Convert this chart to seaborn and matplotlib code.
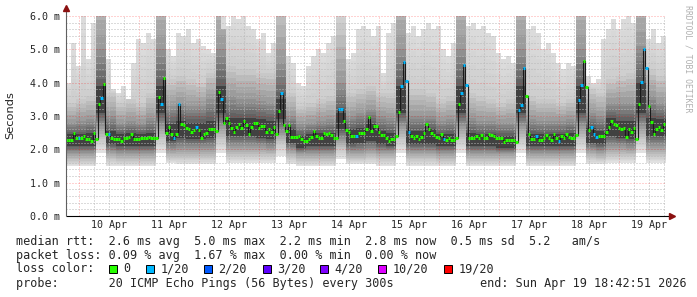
import numpy as np
import matplotlib
matplotlib.use("Agg")
import matplotlib.pyplot as plt
from matplotlib.patches import Rectangle
import seaborn as sns

# ---------------- data ----------------
# hourly median RTT in ms, first sample = Apr 9 19:00 (hour -5 relative to Apr 10 00:00)
median_ms = [
    2.29, 2.29, 2.29, 2.5, 2.35, 2.35, 2.35, 2.4, 2.3, 2.3,
    2.25, 2.5, 2.3, 3.35, 3.55, 3.97, 2.45, 2.45, 2.35, 2.32,
    2.3, 2.3, 2.25, 2.35, 2.33, 2.38, 2.46, 2.3, 2.3, 2.3,
    2.35, 2.33, 2.35, 2.38, 2.35, 2.35, 2.35, 3.58, 3.35, 4.15,
    2.5, 2.66, 2.47, 2.35, 2.45, 3.35, 2.77, 2.73, 2.65, 2.6,
    2.52, 2.58, 2.66, 2.57, 2.35, 2.45, 2.5, 2.6, 2.6, 2.6,
    2.55, 3.71, 3.51, 2.8, 2.93, 2.78, 2.63, 2.52, 2.66, 2.77,
    2.63, 2.84, 2.73, 2.47, 2.67, 2.8, 2.8, 2.64, 2.7, 2.7,
    2.52, 2.61, 2.52, 2.68, 2.47, 3.15, 3.7, 2.73, 2.55, 2.73,
    2.37, 2.37, 2.37, 2.4, 2.3, 2.25, 2.25, 2.3, 2.37, 2.54,
    2.4, 2.35, 2.35, 2.49, 2.45, 2.49, 2.43, 2.33, 2.33, 3.2,
    3.2, 2.85, 2.58, 2.53, 2.4, 2.4, 2.4, 2.5, 2.5, 2.5,
    2.6, 2.97, 2.55, 2.7, 2.7, 2.53, 2.43, 2.43, 2.35, 2.26,
    2.31, 2.31, 2.4, 3.13, 3.91, 4.61, 4.05, 2.53, 2.4, 2.35,
    2.4, 2.3, 2.38, 2.48, 2.77, 2.61, 2.5, 2.43, 2.37, 2.35,
    2.46, 2.31, 2.28, 2.33, 2.28, 2.28, 2.35, 3.37, 3.68, 4.53,
    3.92, 2.35, 2.35, 2.35, 2.41, 2.35, 2.43, 2.33, 2.33, 2.46,
    2.43, 2.4, 2.33, 2.33, 2.33, 2.23, 2.27, 2.27, 2.27, 2.27,
    2.23, 3.18, 3.33, 4.45, 3.61, 2.45, 2.31, 2.31, 2.4, 2.28,
    2.28, 2.35, 2.43, 2.33, 2.28, 2.45, 2.33, 2.24, 2.41, 2.35,
    2.46, 2.36, 2.35, 2.35, 2.43, 3.47, 3.93, 4.65, 3.87, 2.58,
    2.67, 2.47, 2.38, 2.4, 2.4, 2.4, 2.53, 2.67, 2.85, 2.77,
    2.73, 2.63, 2.6, 2.65, 2.38, 2.61, 2.53, 2.65, 2.31, 3.37,
    4.03, 5.01, 4.45, 3.31, 2.83, 2.45, 2.61, 2.67, 2.58, 2.77,
]
# samples with 1/20 packet loss (others 0/20)
loss_1of20_samples = [5, 14, 17, 38, 43, 45, 52, 62, 86, 109, 110, 116, 134, 135,
                      136, 137, 151, 158, 159, 160, 181, 182, 183, 188, 197, 205,
                      206, 210, 211, 212, 230, 231, 232]

# smoke: slowest ping per 2-hour bin (ms)
smoke_max = [
    4.0, 5.2, 4.5, 6.0, 4.7, 5.8, 6.5, 6.5, 4.7, 3.8,
    3.7, 3.9, 3.5, 4.6, 5.3, 5.2, 5.5, 5.3, 6.5, 6.5,
    5.0, 4.8, 5.5, 5.4, 5.6, 5.2, 5.3, 5.1, 5.0, 4.9,
    6.5, 5.6, 5.7, 6.0, 5.9, 6.0, 5.7, 5.6, 5.3, 5.5,
    4.9, 5.2, 6.5, 6.5, 4.8, 4.6, 4.0, 3.9, 4.5, 4.8,
    5.0, 4.9, 5.2, 5.4, 6.5, 6.5, 4.7, 4.9, 5.6, 5.7,
    5.6, 5.4, 5.7, 4.3, 5.5, 5.8, 6.5, 6.5, 5.5, 5.7,
    5.4, 5.6, 5.8, 5.6, 5.7, 5.0, 4.8, 5.2, 6.5, 6.5,
    5.7, 5.8, 5.6, 5.7, 5.5, 5.4, 4.9, 4.7, 4.8, 4.6,
    6.5, 6.5, 5.6, 5.7, 5.5, 5.0, 5.2, 4.9, 4.6, 4.4,
    4.6, 4.5, 6.5, 6.5, 4.2, 4.0, 4.1, 5.3, 5.6, 5.9,
    5.6, 5.9, 6.0, 5.8, 6.5, 6.5, 5.3, 5.6, 5.2, 5.4,
]
# smoke quantiles per 4-hour bin (ms)
smoke_min = [1.5, 1.5, 1.5, 1.9, 1.5, 1.5, 1.5, 1.5, 1.5, 1.9,
             1.6, 1.55, 1.55, 1.55, 1.55, 1.9, 1.6, 1.6, 1.6, 1.6,
             1.6, 1.8, 1.55, 1.5, 1.5, 1.5, 1.5, 1.7, 1.55, 1.55,
             1.55, 1.5, 1.5, 1.9, 1.5, 1.5, 1.5, 1.5, 1.5, 1.9,
             1.5, 1.5, 1.5, 1.5, 1.5, 1.9, 1.5, 1.5, 1.5, 1.5,
             1.5, 1.9, 1.55, 1.55, 1.6, 1.6, 1.6, 1.9, 1.6, 1.6]
smoke_q10 = [1.65, 1.65, 1.65, 2.3, 1.7, 1.65, 1.65, 1.65, 1.65, 2.3,
             1.75, 1.75, 1.75, 1.75, 1.75, 2.3, 1.8, 1.8, 1.8, 1.8,
             1.8, 2.2, 1.75, 1.65, 1.65, 1.65, 1.65, 2.0, 1.7, 1.7,
             1.75, 1.7, 1.7, 2.3, 1.7, 1.7, 1.7, 1.65, 1.65, 2.3,
             1.65, 1.65, 1.65, 1.65, 1.65, 2.3, 1.65, 1.65, 1.65, 1.65,
             1.65, 2.3, 1.75, 1.7, 1.8, 1.8, 1.8, 2.3, 1.8, 1.8]
smoke_q25 = [1.9, 1.9, 1.9, 2.7, 1.95, 1.9, 1.9, 1.9, 1.9, 2.7,
             2.0, 2.05, 2.05, 2.05, 2.05, 2.7, 2.1, 2.1, 2.1, 2.1,
             2.05, 2.5, 2.0, 1.9, 1.9, 1.9, 1.9, 2.3, 1.95, 1.95,
             2.0, 1.95, 1.95, 2.7, 1.95, 1.95, 1.95, 1.9, 1.9, 2.7,
             1.9, 1.9, 1.9, 1.9, 1.9, 2.7, 1.9, 1.9, 1.9, 1.9,
             1.9, 2.7, 2.0, 1.95, 2.1, 2.1, 2.05, 2.7, 2.1, 2.1]
smoke_q40 = [2.1, 2.1, 2.1, 3.1, 2.15, 2.1, 2.1, 2.1, 2.1, 3.1,
             2.25, 2.35, 2.3, 2.3, 2.35, 3.1, 2.4, 2.4, 2.4, 2.35,
             2.3, 2.9, 2.2, 2.05, 2.1, 2.1, 2.1, 2.6, 2.15, 2.2,
             2.25, 2.15, 2.1, 3.1, 2.15, 2.15, 2.15, 2.1, 2.1, 3.1,
             2.1, 2.1, 2.1, 2.05, 2.05, 3.1, 2.1, 2.1, 2.1, 2.1,
             2.1, 3.1, 2.2, 2.15, 2.4, 2.35, 2.3, 3.1, 2.4, 2.4]
smoke_q60 = [2.45, 2.45, 2.5, 3.9, 2.55, 2.45, 2.5, 2.45, 2.5, 3.9,
             2.75, 2.85, 2.8, 2.8, 2.85, 3.9, 2.95, 2.95, 2.95, 2.9,
             2.85, 3.5, 2.6, 2.4, 2.45, 2.5, 2.5, 3.1, 2.6, 2.65,
             2.75, 2.55, 2.5, 3.9, 2.55, 2.55, 2.6, 2.45, 2.45, 3.9,
             2.5, 2.45, 2.45, 2.4, 2.4, 3.9, 2.45, 2.45, 2.45, 2.45,
             2.5, 3.9, 2.65, 2.55, 2.95, 2.85, 2.85, 4.0, 2.95, 2.9]
smoke_q75 = [2.8, 2.85, 2.9, 5.0, 3.0, 2.8, 2.85, 2.8, 2.95, 5.0,
             3.3, 3.4, 3.3, 3.3, 3.5, 5.0, 3.6, 3.5, 3.5, 3.45,
             3.4, 4.6, 3.0, 2.75, 2.8, 2.85, 2.9, 4.0, 3.0, 3.1,
             3.2, 3.0, 2.95, 5.0, 3.0, 3.0, 3.0, 2.85, 2.9, 5.0,
             2.95, 2.85, 2.85, 2.8, 2.8, 5.0, 2.9, 2.85, 2.85, 2.85,
             2.9, 5.0, 3.1, 3.0, 3.4, 3.4, 3.4, 5.1, 3.6, 3.4]
smoke_q90 = [3.4, 3.5, 3.6, 7.2, 3.7, 3.4, 3.5, 3.4, 3.7, 7.2,
             4.1, 4.2, 4.1, 4.0, 4.3, 7.2, 4.5, 4.4, 4.4, 4.3,
             4.3, 6.5, 3.7, 3.3, 3.4, 3.5, 3.6, 5.8, 3.7, 3.8,
             3.9, 3.7, 3.7, 7.2, 3.8, 3.8, 3.7, 3.5, 3.6, 7.2,
             3.7, 3.6, 3.5, 3.4, 3.5, 7.2, 3.6, 3.5, 3.5, 3.4,
             3.5, 7.2, 3.8, 3.7, 4.1, 4.2, 4.3, 7.2, 4.4, 4.2]

day_labels = ["10 Apr", "11 Apr", "12 Apr", "13 Apr", "14 Apr",
              "15 Apr", "16 Apr", "17 Apr", "18 Apr", "19 Apr"]
y_tick_values = [0, 1, 2, 3, 4, 5, 6]
y_tick_labels = ["0.0 m", "1.0 m", "2.0 m", "3.0 m", "4.0 m", "5.0 m", "6.0 m"]
loss_legend_labels = ["0", "1/20", "2/20", "3/20", "4/20", "10/20", "19/20"]
loss_legend_colors = ["#26ff00", "#00b8ff", "#0059ff", "#5e00ff", "#7e00ff", "#dd00ff", "#ff0000"]
stats_line = "median rtt:  2.6 ms avg  5.0 ms max  2.2 ms min  2.8 ms now  0.5 ms sd  5.2   am/s"
loss_line = "packet loss: 0.09 % avg  1.67 % max  0.00 % min  0.00 % now"
probe_line = "probe:       20 ICMP Echo Pings (56 Bytes) every 300s"
end_line = "end: Sun Apr 19 18:42:51 2026"
loss_title = "loss color:"
y_title = "Seconds"
credit = "RRDTOOL / TOBI OETIKER"

# ---------------- figure ----------------
sns.set_style("white")
plt.rcParams["font.family"] = ["DejaVu Sans Mono", "DejaVu Sans"]

W, H = 697, 297
fig = plt.figure(figsize=(W / 100, H / 100), dpi=100, facecolor="white")
X0, X1, Y0, Y1 = 66, 666, 16, 216
ax = fig.add_axes([X0 / W, 1 - Y1 / H, (X1 - X0) / W, (Y1 - Y0) / H])
T0, T1 = -5.2, 234.8
ax.set_xlim(T0, T1)
ax.set_ylim(0, 6)
ax.set_facecolor("white")
for s in ax.spines.values():
    s.set_visible(False)


def fpos(x, y):
    return x / W, 1 - y / H


# ---- smoke ----
edges = T0 + 2 * np.arange(len(smoke_max) + 1)


def up(a):
    return np.repeat(np.asarray(a, float), 2)


def ext(a):
    return np.append(a, a[-1])


lower = [(up(smoke_min), 228), (up(smoke_q10), 200), (up(smoke_q25), 150), (up(smoke_q40), 92)]
upper = [(up(smoke_q60), 92), (up(smoke_q75), 150), (up(smoke_q90), 205), (np.asarray(smoke_max, float), 221)]
NSUB = 5


def band(a, ga, b, gb):
    for s in range(NSUB):
        lo = a + (b - a) * s / NSUB
        hi = a + (b - a) * (s + 1) / NSUB
        g = int(round(ga + (gb - ga) * (s + 0.5) / NSUB))
        c = "#%02x%02x%02x" % (g, g, g)
        ax.fill_between(edges, ext(lo), ext(hi), step="post", color=c,
                        linewidth=0, antialiased=False, zorder=1)


for (a, ga), (b, gb) in zip(lower[:-1], lower[1:]):
    band(a, ga, b, gb)
ax.fill_between(edges, ext(lower[-1][0]), ext(upper[0][0]), step="post",
                color="#414141", linewidth=0, antialiased=False, zorder=1)
for (a, ga), (b, gb) in zip(upper[:-1], upper[1:]):
    band(a, ga, b, gb)

# ---- grid ----
dot = (0, (1, 2))
for h in range(0, 235, 6):
    if h % 24:
        ax.axvline(h, color="#b8b8b8", lw=0.72, ls=dot, zorder=2)
for h in range(0, 235, 24):
    ax.axvline(h, color="#ff0000", alpha=0.35, lw=0.72, ls=dot, zorder=2)
for v in np.arange(0.2, 6.01, 0.2):
    if abs(v - round(v)) > 1e-6:
        ax.axhline(v, color="#b8b8b8", lw=0.72, ls=dot, zorder=2)
for v in range(1, 7):
    ax.axhline(v, color="#ff0000", alpha=0.35, lw=0.72, ls=dot, zorder=2)

# ---- median line ----
hours = np.arange(len(median_ms)) - 5
med = np.asarray(median_ms, float)
sns.lineplot(x=hours, y=med, drawstyle="steps-mid", color="#1a1a1a", lw=0.8,
             estimator=None, ax=ax, legend=False, zorder=3)
loss = np.zeros(len(med), int)
loss[loss_1of20_samples] = 1
seg_colors = [loss_legend_colors[l] for l in loss]
ax.hlines(med, hours - 0.5, hours + 0.5, colors=seg_colors, linewidth=2.2,
          zorder=4, capstyle="butt")

# ---- axes ----
axis_red = "#8b1010"
ax.plot([T0, T1 + 1.4], [0, 0], color="black", lw=0.8, clip_on=False, zorder=5,
        solid_capstyle="butt")
ax.plot([T1 + 2.2], [0], marker=">", color=axis_red, ms=4, clip_on=False, zorder=6)
ax.plot([T0, T0], [0, 6.18], color="#606060", lw=0.8, clip_on=False, zorder=5,
        solid_capstyle="butt")
ax.plot([T0], [6.24], marker="^", color=axis_red, ms=4, clip_on=False, zorder=6)

ax.set_xticks([12 + 24 * i for i in range(len(day_labels))])
ax.set_xticklabels(day_labels, fontsize=7.2, family="DejaVu Sans Mono")
ax.set_xticks(list(range(0, 235, 24)), minor=True)
ax.tick_params(axis="x", which="major", length=0, pad=3)
ax.tick_params(axis="x", which="minor", length=2.5, color="#e08080", width=0.7)
ax.set_yticks(y_tick_values)
ax.set_yticklabels(y_tick_labels, fontsize=7.2, family="DejaVu Sans Mono")
ax.tick_params(axis="y", which="major", length=0, pad=4.3)
ax.set_xlabel("")
ax.set_ylabel("")

# ---- texts ----
fig.text(*fpos(10, 115), y_title, rotation=90, ha="center", va="center",
         fontsize=8.2, family="DejaVu Sans")
fig.text(*fpos(688, 5), credit, rotation=270, ha="center", va="top",
         fontsize=5.9, family="DejaVu Sans Mono", color="#b0b0b0")

LF = 8.5
fig.text(*fpos(16.5, 241), stats_line, ha="left", va="center", fontsize=LF)
fig.text(*fpos(16.5, 255), loss_line, ha="left", va="center", fontsize=LF)
fig.text(*fpos(16.5, 269), loss_title, ha="left", va="center", fontsize=LF)
fig.text(*fpos(16.5, 283), probe_line, ha="left", va="center", fontsize=LF)
fig.text(*fpos(480, 283), end_line, ha="left", va="center", fontsize=LF)

sq_x = [109, 146, 204, 263, 320, 378, 444]
for xs, lab, col in zip(sq_x, loss_legend_labels, loss_legend_colors):
    fx, fy = fpos(xs, 273)
    fig.add_artist(Rectangle((fx, fy), 8 / W, 8 / H, transform=fig.transFigure,
                             facecolor=col, edgecolor="black", linewidth=0.7))
    fig.text(*fpos(xs + 14.5, 269), lab, ha="left", va="center", fontsize=LF)

fig.savefig("out.png", dpi=100, facecolor="white")
